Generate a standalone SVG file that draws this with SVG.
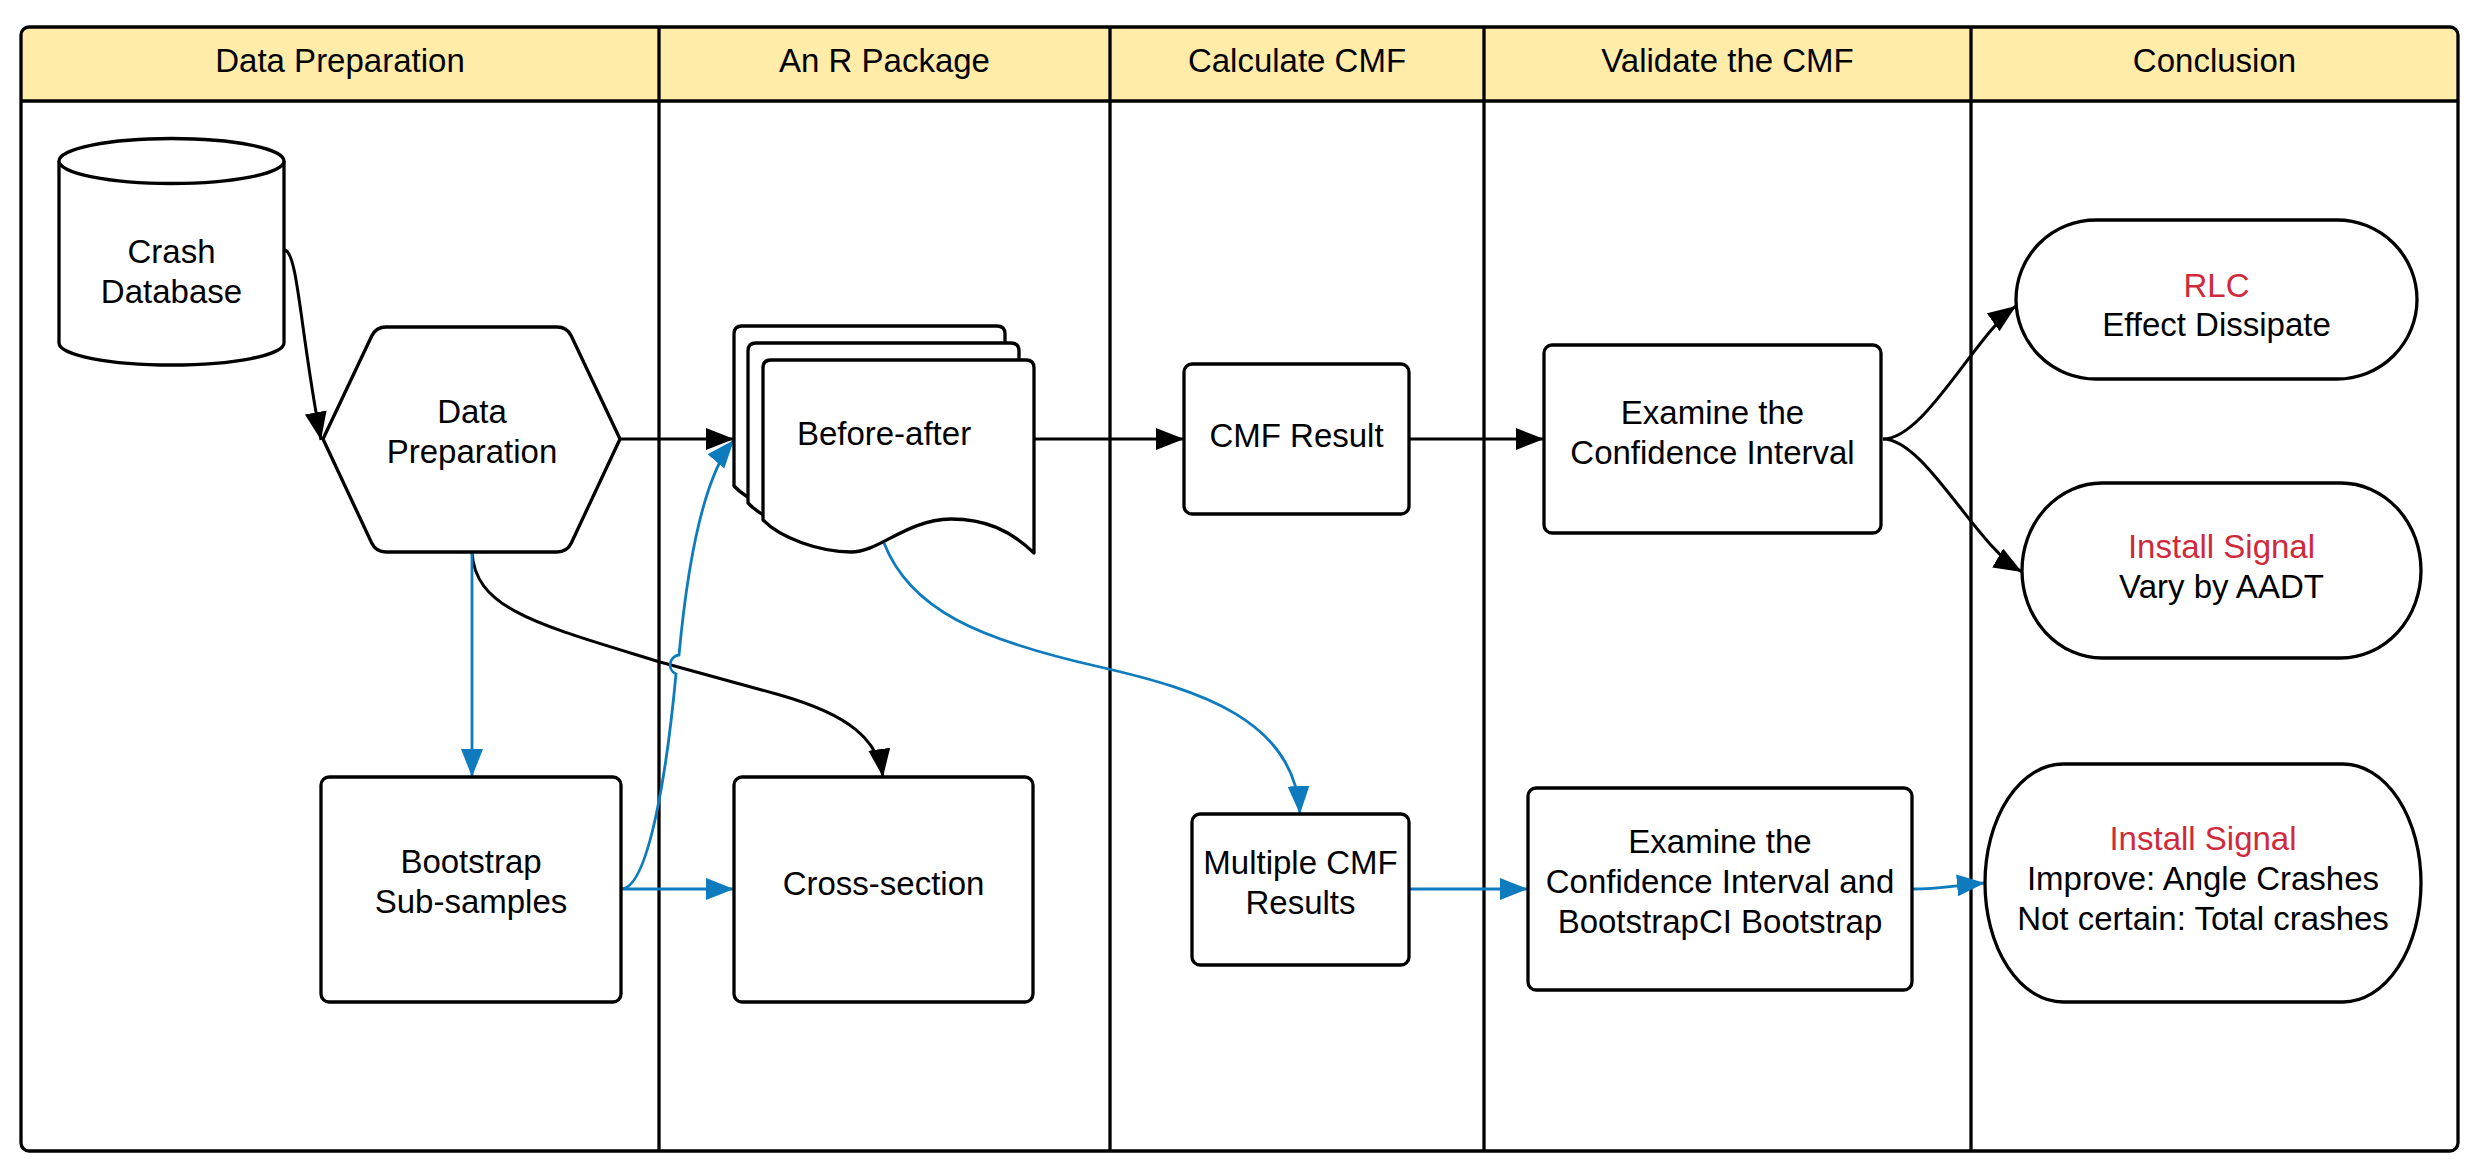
<svg xmlns="http://www.w3.org/2000/svg" xmlns:xlink="http://www.w3.org/1999/xlink" width="2477" height="1173" viewBox="0 0 2477 1173">
  <style>
    .lane { fill: none; stroke: #000; stroke-width: 3.3; }
    .hdr { fill: #FFECA8; }
    .htxt { font-family: "Liberation Sans", Arial, sans-serif; font-size: 33px; fill: #000; text-anchor: middle; }
    .shape { fill: #fff; stroke: #000; stroke-width: 3.3; stroke-linejoin: round; }
    .txt { font-family: "Liberation Sans", Arial, sans-serif; font-size: 33px; fill: #000; text-anchor: middle; }
    .red { fill: #CF2A3C; }
    .cb { fill: none; stroke: #000; stroke-width: 3; marker-end: url(#ab); }
    .cu { fill: none; stroke: #0E7BBF; stroke-width: 2.8; marker-end: url(#au); }
    .cun { fill: none; stroke: #0E7BBF; stroke-width: 2.8; }
  </style>
  <defs>
    <marker id="ab" markerUnits="userSpaceOnUse" markerWidth="30" markerHeight="24" refX="28" refY="11" orient="auto">
      <path d="M0,0 L28,11 L0,22 Z" fill="#000"/>
    </marker>
    <marker id="au" markerUnits="userSpaceOnUse" markerWidth="30" markerHeight="24" refX="28" refY="11" orient="auto">
      <path d="M0,0 L28,11 L0,22 Z" fill="#0E7BBF"/>
    </marker>
    <path id="docpage" d="M763,368 Q763,360 771,360 L1026,360 Q1034,360 1034,368 L1034,553 C1010,530 985,519 951,519 C905,520 880,552 851,552 C820,552 780,538 763,520 Z"/>
  </defs>

  <g id="swimlanes">
    <rect x="21" y="27" width="2437" height="1124" rx="8" fill="#fff"/>
    <path class="hdr" d="M21,101 L21,35 Q21,27 29,27 L2450,27 Q2458,27 2458,35 L2458,101 Z"/>
    <rect class="lane" x="21" y="27" width="2437" height="1124" rx="8"/>
    <line class="lane" x1="21" y1="101" x2="2458" y2="101"/>
    <line class="lane" x1="659" y1="27" x2="659" y2="1151"/>
    <line class="lane" x1="1110" y1="27" x2="1110" y2="1151"/>
    <line class="lane" x1="1484" y1="27" x2="1484" y2="1151"/>
    <line class="lane" x1="1971" y1="27" x2="1971" y2="1151"/>
    <text class="htxt" x="340" y="72">Data Preparation</text>
    <text class="htxt" x="884.5" y="72">An R Package</text>
    <text class="htxt" x="1297" y="72">Calculate CMF</text>
    <text class="htxt" x="1727.5" y="72">Validate the CMF</text>
    <text class="htxt" x="2214.5" y="72">Conclusion</text>
  </g>

  <g id="connectors">
    <path class="cb" d="M285,250 C298,254 300,330 321,440"/>
    <path class="cb" d="M620,439 L734,439"/>
    <path class="cb" d="M1034,439 L1184,439"/>
    <path class="cb" d="M1409,439 L1544,439"/>
    <path class="cb" d="M1883,439 C1925,439 1975,335 2016,306"/>
    <path class="cb" d="M1883,439 C1925,439 1975,545 2022,572"/>
    <path class="cb" d="M472,552 C475,610 540,625 660,662 L780,695 C850,715 878,740 883,777"/>
    <path class="cu" d="M472,552 L472,777"/>
    <path class="cu" d="M621,889 L734,889"/>
    <path class="cu" d="M621,889 C650,889 668,760 676,674 A10,10 0 0 1 679,655 C686,580 700,480 734,440"/>
    <path class="cu" d="M884,543 C910,610 980,640 1100,667 C1200,690 1295,720 1300,814"/>
    <path class="cu" d="M1409,889 L1528,889"/>
    <path class="cu" d="M1912,889 C1940,889 1950,886 1985,883"/>
  </g>

  <g id="crash-database">
    <path class="shape" d="M59,161 A112.5,22.5 0 0 1 284,161 L284,343 A112.5,22 0 0 1 59,343 Z"/>
    <path class="shape" fill="none" d="M59,161 A112.5,22.5 0 0 0 284,161"/>
    <text class="txt" x="171.5" y="263">Crash</text>
    <text class="txt" x="171.5" y="303">Database</text>
  </g>

  <g id="data-preparation">
    <path class="shape" d="M386,327 L557,327 Q567,327 571.3,336 L620,439 L571.3,543 Q567,552 557,552 L386,552 Q376,552 371.7,543 L323,439 L371.7,336 Q376,327 386,327 Z"/>
    <text class="txt" x="472" y="423">Data</text>
    <text class="txt" x="472" y="463">Preparation</text>
  </g>

  <g id="before-after">
    <use xlink:href="#docpage" href="#docpage" class="shape" transform="translate(-29,-34)"/>
    <use xlink:href="#docpage" href="#docpage" class="shape" transform="translate(-15,-17)"/>
    <use xlink:href="#docpage" href="#docpage" class="shape"/>
    <text class="txt" x="884" y="445">Before-after</text>
  </g>

  <g id="cmf-result">
    <rect class="shape" x="1184" y="364" width="225" height="150" rx="8"/>
    <text class="txt" x="1296.5" y="447">CMF Result</text>
  </g>

  <g id="examine-ci">
    <rect class="shape" x="1544" y="345" width="337" height="188" rx="8"/>
    <text class="txt" x="1712.5" y="424">Examine the</text>
    <text class="txt" x="1712.5" y="464">Confidence Interval</text>
  </g>

  <g id="rlc">
    <rect class="shape" x="2016" y="220" width="401" height="159" rx="80" ry="79.5"/>
    <text class="txt red" x="2216.5" y="297">RLC</text>
    <text class="txt" x="2216.5" y="336">Effect Dissipate</text>
  </g>

  <g id="install-signal-aadt">
    <rect class="shape" x="2022" y="483" width="399" height="175" rx="80" ry="87.5"/>
    <text class="txt red" x="2221.5" y="558">Install Signal</text>
    <text class="txt" x="2221.5" y="598">Vary by AADT</text>
  </g>

  <g id="bootstrap-subsamples">
    <rect class="shape" x="321" y="777" width="300" height="225" rx="8"/>
    <text class="txt" x="471" y="873">Bootstrap</text>
    <text class="txt" x="471" y="913">Sub-samples</text>
  </g>

  <g id="cross-section">
    <rect class="shape" x="734" y="777" width="299" height="225" rx="8"/>
    <text class="txt" x="883.5" y="895">Cross-section</text>
  </g>

  <g id="multiple-cmf">
    <rect class="shape" x="1192" y="814" width="217" height="151" rx="8"/>
    <text class="txt" x="1300.5" y="874">Multiple CMF</text>
    <text class="txt" x="1300.5" y="914">Results</text>
  </g>

  <g id="examine-ci-bootstrap">
    <rect class="shape" x="1528" y="788" width="384" height="202" rx="8"/>
    <text class="txt" x="1720" y="853">Examine the</text>
    <text class="txt" x="1720" y="893">Confidence Interval and</text>
    <text class="txt" x="1720" y="933">BootstrapCI Bootstrap</text>
  </g>

  <g id="install-signal-angle">
    <rect class="shape" x="1985" y="764" width="436" height="238" rx="78" ry="119"/>
    <text class="txt red" x="2203" y="850">Install Signal</text>
    <text class="txt" x="2203" y="890">Improve: Angle Crashes</text>
    <text class="txt" x="2203" y="930">Not certain: Total crashes</text>
  </g>
</svg>
